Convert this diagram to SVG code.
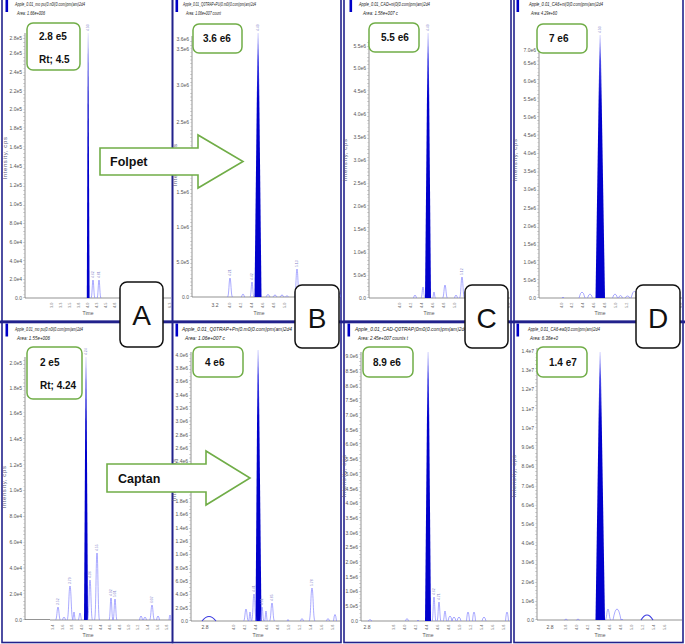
<svg xmlns="http://www.w3.org/2000/svg" width="685" height="644" viewBox="0 0 685 644">
<style>
.frame{fill:none;stroke:#22228c;stroke-width:1.6}
.ax{stroke:#666;stroke-width:0.7;fill:none}
.tk{stroke:#777;stroke-width:0.5;fill:none}
.mt{stroke:#888;stroke-width:1.4;fill:none;stroke-dasharray:0.4 3.3}
.yl{font-family:"Liberation Sans",sans-serif;font-size:5px;fill:#555;text-anchor:end}
.xl{font-family:"Liberation Sans",sans-serif;font-size:3.8px;fill:#777}
.xh{font-family:"Liberation Sans",sans-serif;font-size:5px;fill:#555;text-anchor:middle}
.pl{font-family:"Liberation Sans",sans-serif;font-size:3.4px;fill:#8888cc}
.hd{font-family:"Liberation Sans",sans-serif;font-style:italic;font-size:5.2px;fill:#222}
.it{font-family:"Liberation Sans",sans-serif;font-size:6px;fill:#5a5a80;text-anchor:middle;letter-spacing:0.6px}
.pk{fill:none;stroke:#7070ff;stroke-width:0.6}
.pkd{fill:none;stroke:#3a3ae0;stroke-width:1.1}
.main{fill:url(#pg)}
.sq{fill:#0000c8}
.vb{fill:#fff;stroke:#70ad47;stroke-width:1.5}
.vt{font-family:"Liberation Sans",sans-serif;font-weight:bold;font-size:10px;fill:#111}
.arr{fill:#fff;stroke:#70ad47;stroke-width:1.6}
.at{font-family:"Liberation Sans",sans-serif;font-weight:bold;font-size:12.5px;fill:#111}
.lbx{fill:#fff;stroke:#111;stroke-width:1.5}
.lt{font-family:"Liberation Sans",sans-serif;font-size:28px;fill:#111;text-anchor:middle}
</style>
<defs>
<linearGradient id="pg" x1="0" y1="0" x2="0" y2="1">
<stop offset="0" stop-color="#d8d8ff"/>
<stop offset="0.1" stop-color="#4848e8"/>
<stop offset="0.25" stop-color="#0000cc"/>
<stop offset="1" stop-color="#0000cc"/>
</linearGradient>
</defs>
<rect width="685" height="644" fill="#fff"/>

<!-- ===== Panel frames ===== -->
<g id="frames">
<rect class="frame" x="2" y="-2" width="170.5" height="323.5"/>
<rect class="frame" x="172.5" y="-2" width="168.5" height="323.5"/>
<rect class="frame" x="344" y="-2" width="167" height="323.5"/>
<rect class="frame" x="514" y="-2" width="169" height="323.5"/>
<rect class="frame" x="2" y="322" width="170.5" height="320.5"/>
<rect class="frame" x="172.5" y="322" width="168.5" height="320.5"/>
<rect class="frame" x="344" y="322" width="167" height="320.5"/>
<rect class="frame" x="514" y="322" width="169" height="320.5"/>
<rect x="0" y="320.5" width="685" height="2.8" fill="#22228c"/>
</g>

<!-- ===== Top A ===== -->
<g id="panel-top-A">
<rect class="sq" x="5.5" y="0" width="2.6" height="12"/>
<text class="hd" x="15" y="6" textLength="70" lengthAdjust="spacingAndGlyphs">Apple_0.01_mo pu(0.n0l(0.com)pm(am)2d4</text>
<text class="hd" x="17" y="15" textLength="28" lengthAdjust="spacingAndGlyphs">Area: 1.66e+006</text>
<text class="it" transform="translate(6.5 158) rotate(-90)">Intensity, cps</text>
<path class="ax" d="M25 33V298M25 298H171"/>
<path class="mt" d="M24 298V35"/>
<text class="yl"><tspan x="22" y="39.8">2.8e5</tspan><tspan x="22" y="54.8">2.6e5</tspan><tspan x="22" y="73.8">2.4e5</tspan><tspan x="22" y="92.8">2.2e5</tspan><tspan x="22" y="110.8">2.0e5</tspan><tspan x="22" y="129.8">1.8e5</tspan><tspan x="22" y="148.8">1.6e5</tspan><tspan x="22" y="167.8">1.4e5</tspan><tspan x="22" y="186.8">1.2e5</tspan><tspan x="22" y="205.8">1.0e5</tspan><tspan x="22" y="224.8">8.0e4</tspan><tspan x="22" y="243.8">6.0e4</tspan><tspan x="22" y="262.8">4.0e4</tspan><tspan x="22" y="280.8">2.0e4</tspan><tspan x="22" y="299.8">0.0</tspan></text>
<path class="main" d="M86.8 298L87.8 33L88.4 33L89.6 298Z"/>
<path class="pk" d="M91 298C92.2 298 92.2 280 93 280C93.8 280 93.8 298 95 298M97 298C98.2 298 98.2 280 99 280C99.8 280 99.8 298 101 298M124.5 298C125.4 298 125.4 295 126 295C126.6 295 126.6 298 127.5 298"/>
<text class="pl" transform="rotate(-90)"><tspan x="-31" y="89.2">4.50</tspan><tspan x="-278" y="94.2">4.62</tspan><tspan x="-278" y="100.2">4.81</tspan><tspan x="-293" y="127.2">5.54</tspan></text>
<text class="xl" transform="rotate(-90)"><tspan x="-308" y="53.3">3.0</tspan><tspan x="-308" y="62.3">3.3</tspan><tspan x="-308" y="71.3">3.5</tspan><tspan x="-308" y="80.3">3.8</tspan><tspan x="-308" y="89.3">4.0</tspan><tspan x="-308" y="98.3">4.3</tspan><tspan x="-308" y="107.3">4.5</tspan><tspan x="-308" y="116.3">4.8</tspan><tspan x="-308" y="125.3">5.0</tspan><tspan x="-308" y="162.3">6.0</tspan><tspan x="-308" y="171.3">6.3</tspan></text>
<text class="xh" x="88" y="315">Time</text>
</g>

<!-- ===== Top B ===== -->
<g id="panel-top-B">
<rect class="sq" x="175.5" y="0" width="2.6" height="12"/>
<text class="hd" x="183" y="6" textLength="73" lengthAdjust="spacingAndGlyphs">Apple_0.01_Q0TRAP+PU(0.m0l(0.com)pm(am)2d4</text>
<text class="hd" x="186" y="15" textLength="35" lengthAdjust="spacingAndGlyphs">Area: 1.06e+007 count</text>
<text class="it" transform="translate(176.5 165) rotate(-90)">Intensity, cps</text>
<path class="ax" d="M192 36V297M192 297H340"/>
<path class="mt" d="M191 297V38"/>
<text class="yl"><tspan x="189" y="40.8">3.6e6</tspan><tspan x="189" y="50.8">3.5e6</tspan><tspan x="189" y="86.8">3.0e6</tspan><tspan x="189" y="123.8">2.5e6</tspan><tspan x="189" y="158.8">2.0e6</tspan><tspan x="189" y="193.8">1.5e6</tspan><tspan x="189" y="228.8">1.0e6</tspan><tspan x="189" y="263.8">5.0e5</tspan><tspan x="189" y="298.8">0.0</tspan></text>
<path class="main" d="M254.5 297L257.6 33L258.6 33L261.5 297Z"/>
<path class="pk" d="M227.5 297C229 297 229 278 230 278C231 278 231 297 232.5 297M250 297C251.2 297 251.2 282 252 282C252.8 282 252.8 297 254 297M294.5 297C296 297 296 269 297 269C298 269 298 297 299.5 297M241 297C242 297 242 294 243 294C244 294 244 297 245 297M266 297Q268 292 270 297M273 297Q275 293 277 297M280 297Q282 293 284 297M285.5 297Q287 294 288.5 297M337.5 297Q339 289 340.5 297"/>
<text class="pl" transform="rotate(-90)"><tspan x="-31" y="259.2">4.49</tspan><tspan x="-276" y="231.2">4.21</tspan><tspan x="-280" y="253.2">4.42</tspan><tspan x="-267" y="298.2">5.13</tspan></text>
<text class="xh" x="215" y="307">3.2</text>
<text class="xl" transform="rotate(-90)"><tspan x="-308" y="231.3">4.0</tspan><tspan x="-308" y="242.3">4.2</tspan><tspan x="-308" y="253.3">4.4</tspan><tspan x="-308" y="264.3">4.6</tspan><tspan x="-308" y="275.3">4.8</tspan><tspan x="-308" y="286.3">5.0</tspan><tspan x="-308" y="339.3">6.0</tspan></text>
<text class="xh" x="259" y="315">Time</text>
</g>

<!-- ===== Top C ===== -->
<g id="panel-top-C">
<rect class="sq" x="349.5" y="0" width="2.6" height="12"/>
<text class="hd" x="359" y="6" textLength="71" lengthAdjust="spacingAndGlyphs">Apple_0.01_CAD+ni(0(0.com)pm(am)2d4</text>
<text class="hd" x="363" y="15" textLength="35" lengthAdjust="spacingAndGlyphs">Area: 1.58e+007 c</text>
<text class="it" transform="translate(346.5 160) rotate(-90)">Intensity, cps</text>
<path class="ax" d="M369 40V298M369 298H510"/>
<path class="mt" d="M368 298V42"/>
<text class="yl"><tspan x="366" y="47.8">5.5e6</tspan><tspan x="366" y="69.8">5.0e6</tspan><tspan x="366" y="92.8">4.5e6</tspan><tspan x="366" y="115.8">4.0e6</tspan><tspan x="366" y="138.8">3.5e6</tspan><tspan x="366" y="161.8">3.0e6</tspan><tspan x="366" y="184.8">2.5e6</tspan><tspan x="366" y="207.8">2.0e6</tspan><tspan x="366" y="230.8">1.5e6</tspan><tspan x="366" y="253.8">1.0e6</tspan><tspan x="366" y="276.8">5.0e5</tspan><tspan x="366" y="299.8">0.0</tspan></text>
<path class="main" d="M425 298L427.6 33L428.6 33L431 298Z"/>
<path class="pk" d="M413.5 298Q415 292 416.5 298M421 298C422.2 298 422.2 287 423 287C423.8 287 423.8 298 425 298M432.5 298C433.4 298 433.4 292 434 292C434.6 292 434.6 298 435.5 298M442.5 298C444 298 444 285 445 285C446 285 446 298 447.5 298M454.5 298Q456 292 457.5 298M459.5 298C461 298 461 277 462 277C463 277 463 298 464.5 298M468.5 298Q470 288 471.5 298"/>
<text class="pl" transform="rotate(-90)"><tspan x="-31" y="429.2">4.49</tspan><tspan x="-275" y="463.2">5.12</tspan></text>
<text class="xl" transform="rotate(-90)"><tspan x="-308" y="401.3">4.0</tspan><tspan x="-308" y="412.3">4.2</tspan><tspan x="-308" y="423.3">4.4</tspan><tspan x="-308" y="434.3">4.6</tspan><tspan x="-308" y="445.3">4.8</tspan><tspan x="-308" y="456.3">5.0</tspan><tspan x="-308" y="510.3">6.0</tspan></text>
<text class="xh" x="429" y="315">Time</text>
</g>

<!-- ===== Top D ===== -->
<g id="panel-top-D">
<rect class="sq" x="516.5" y="0" width="2.6" height="12"/>
<text class="hd" x="529" y="6" textLength="74" lengthAdjust="spacingAndGlyphs">Apple_0.01_CA6+ni(0(0.com)pm(am)2d4</text>
<text class="hd" x="531" y="15" textLength="26" lengthAdjust="spacingAndGlyphs">Area: 4.29e+60</text>
<text class="it" transform="translate(516.5 160) rotate(-90)">Intensity, cps</text>
<path class="ax" d="M539 45V298M539 298H682"/>
<path class="mt" d="M538 298V47"/>
<text class="yl"><tspan x="536" y="51.8">7.0e6</tspan><tspan x="536" y="64.8">6.5e6</tspan><tspan x="536" y="82.8">6.0e6</tspan><tspan x="536" y="100.8">5.5e6</tspan><tspan x="536" y="118.8">5.0e6</tspan><tspan x="536" y="136.8">4.5e6</tspan><tspan x="536" y="154.8">4.0e6</tspan><tspan x="536" y="172.8">3.5e6</tspan><tspan x="536" y="190.8">3.0e6</tspan><tspan x="536" y="209.8">2.5e6</tspan><tspan x="536" y="227.8">2.0e6</tspan><tspan x="536" y="245.8">1.5e6</tspan><tspan x="536" y="263.8">1.0e6</tspan><tspan x="536" y="281.8">5.0e5</tspan><tspan x="536" y="299.8">0.0</tspan></text>
<path class="main" d="M595.5 298L599.6 35L600.6 35L605 298Z"/>
<path class="pk" d="M562 298Q563 296 564 298M579 298Q582 286 585 298M587.5 298Q590 290 592.5 298M612.5 298Q615 290 617.5 298M618.5 298Q620.5 293 622.5 298M625 298Q627.5 294 630 298M631 298Q634.5 284 638 298M670 298Q672 294 674 298"/>
<text class="pl" transform="rotate(-90)"><tspan x="-33" y="601.2">4.50</tspan></text>
<text class="xl" transform="rotate(-90)"><tspan x="-308" y="563.3">4.0</tspan><tspan x="-308" y="573.3">4.2</tspan><tspan x="-308" y="584.3">4.4</tspan><tspan x="-308" y="595.3">4.6</tspan><tspan x="-308" y="606.3">4.8</tspan><tspan x="-308" y="617.3">5.0</tspan><tspan x="-308" y="628.3">5.2</tspan><tspan x="-308" y="682.3">6.0</tspan></text>
<text class="xh" x="600" y="315">Time</text>
</g>

<!-- ===== Bottom A ===== -->
<g id="panel-bottom-A">
<rect class="sq" x="5.5" y="323.5" width="2.6" height="13"/>
<text class="hd" x="15" y="331" textLength="68" lengthAdjust="spacingAndGlyphs">Apple_0.01_mo pu(0.n0l(0.com)pm(am)2d4</text>
<text class="hd" x="17" y="340" textLength="33" lengthAdjust="spacingAndGlyphs">Area: 1.55e+006</text>
<text class="it" transform="translate(5.5 487) rotate(-90)">Intensity, cps</text>
<path class="ax" d="M25 357V620M25 619.5H50M50 620H171"/>
<path class="mt" d="M24 620V359"/>
<text class="yl"><tspan x="22" y="364.8">2.0e5</tspan><tspan x="22" y="389.8">1.8e5</tspan><tspan x="22" y="414.8">1.6e5</tspan><tspan x="22" y="440.8">1.4e5</tspan><tspan x="22" y="466.8">1.2e5</tspan><tspan x="22" y="491.8">1.0e5</tspan><tspan x="22" y="517.8">8.0e4</tspan><tspan x="22" y="543.8">6.0e4</tspan><tspan x="22" y="569.8">4.0e4</tspan><tspan x="22" y="595.8">2.0e4</tspan><tspan x="22" y="621.8">0.0</tspan></text>
<path class="main" d="M84 620L85.6 357L86.4 357L88 620Z"/>
<path class="pk" d="M55.5 620C57 620 57 607 58 607C59 607 59 620 60.5 620M62.5 620Q64 614 65.5 620M67 620C68.8 620 68.8 586 70 586C71.2 586 71.2 620 73 620M72.5 620C73.4 620 73.4 612 74 612C74.6 612 74.6 620 75.5 620M78 620C79.2 620 79.2 613 80 613C80.8 613 80.8 620 82 620M87.5 620C89 620 89 580 90 580C91 580 91 620 92.5 620M94.5 620C96 620 96 553 97 553C98 553 98 620 99.5 620M109 620C110.2 620 110.2 598 111 598C111.8 598 111.8 620 113 620M113 620C114.2 620 114.2 599 115 599C115.8 599 115.8 620 117 620M139.5 620Q141 612 142.5 620M143.5 620Q145 614 146.5 620M149.5 620C151 620 151 605 152 605C153 605 153 620 154.5 620M156.5 620Q158 612 159.5 620M169 620Q170 610 171 620"/>
<text class="pl" transform="rotate(-90)"><tspan x="-355" y="87.2">4.24</tspan><tspan x="-605" y="59.2">3.52</tspan><tspan x="-584" y="71.2">3.79</tspan><tspan x="-578" y="91.2">4.36</tspan><tspan x="-551" y="98.2">4.55</tspan><tspan x="-596" y="112.2">4.92</tspan><tspan x="-597" y="116.2">5.01</tspan><tspan x="-603" y="153.2">6.07</tspan></text>
<text class="xl" transform="rotate(-90)"><tspan x="-630" y="54.3">3.4</tspan><tspan x="-630" y="64.3">3.6</tspan><tspan x="-630" y="73.3">3.8</tspan><tspan x="-630" y="83.3">4.0</tspan><tspan x="-630" y="92.3">4.2</tspan><tspan x="-630" y="102.3">4.4</tspan><tspan x="-630" y="111.3">4.6</tspan><tspan x="-630" y="121.3">4.8</tspan><tspan x="-630" y="130.3">5.0</tspan><tspan x="-630" y="139.3">5.2</tspan><tspan x="-630" y="149.3">5.4</tspan><tspan x="-630" y="159.3">5.6</tspan><tspan x="-630" y="168.3">5.8</tspan></text>
<text class="xh" x="88" y="637">Time</text>
</g>

<!-- ===== Bottom B ===== -->
<g id="panel-bottom-B">
<rect class="sq" x="175.5" y="323.5" width="2.6" height="13"/>
<text class="hd" x="182" y="331" textLength="110" lengthAdjust="spacingAndGlyphs">Apple_0.01_Q0TRAP+Pn(0.m0(0.com)pm(am)2d4</text>
<text class="hd" x="185" y="340" textLength="40" lengthAdjust="spacingAndGlyphs">Area: 1.06e+007 c</text>
<text class="it" transform="translate(175.5 480) rotate(-90)">Intensity, cps</text>
<path class="ax" d="M191 352V621M191 621H340"/>
<path class="mt" d="M190 621V354"/>
<text class="yl"><tspan x="188" y="356.8">4.0e6</tspan><tspan x="188" y="370.1">3.8e6</tspan><tspan x="188" y="383.4">3.6e6</tspan><tspan x="188" y="396.7">3.4e6</tspan><tspan x="188" y="410">3.2e6</tspan><tspan x="188" y="423.3">3.0e6</tspan><tspan x="188" y="436.6">2.8e6</tspan><tspan x="188" y="449.9">2.6e6</tspan><tspan x="188" y="463.2">2.4e6</tspan><tspan x="188" y="476.5">2.2e6</tspan><tspan x="188" y="489.8">2.0e6</tspan><tspan x="188" y="503.1">1.8e6</tspan><tspan x="188" y="516.4">1.6e6</tspan><tspan x="188" y="529.7">1.4e6</tspan><tspan x="188" y="543">1.2e6</tspan><tspan x="188" y="556.3">1.0e6</tspan><tspan x="188" y="569.6">8.0e5</tspan><tspan x="188" y="582.9">6.0e5</tspan><tspan x="188" y="596.2">4.0e5</tspan><tspan x="188" y="609.5">2.0e5</tspan><tspan x="188" y="622.8">0.0</tspan></text>
<path class="main" d="M255.5 621L257.6 350L258.6 350L261.5 621Z"/>
<path class="pkd" d="M202 621Q209 612 216 621"/>
<path class="pk" d="M243.5 621C245 621 245 609 246 609C247 609 247 621 248.5 621M248.5 621C249.4 621 249.4 612 250 612C250.6 612 250.6 621 251.5 621M251.5 621C253 621 253 594 254 594C255 594 255 621 256.5 621M260 621C261.2 621 261.2 607 262 607C262.8 607 262.8 621 264 621M264.5 621C265.4 621 265.4 611 266 611C266.6 611 266.6 621 267.5 621M269.5 621C271 621 271 603 272 603C273 603 273 621 274.5 621M309 621C310.8 621 310.8 588 312 588C313.2 588 313.2 621 315 621M287 621Q288 618 289 621M300.5 621Q302 616 303.5 621M326.5 621Q328 616 329.5 621M333.5 621Q335 608 336.5 621"/>
<text class="pl" transform="rotate(-90)"><tspan x="-592" y="255.2">4.41</tspan><tspan x="-605" y="263.2">4.61</tspan><tspan x="-601" y="273.2">4.85</tspan><tspan x="-586" y="313.2">5.78</tspan></text>
<text class="xh" x="205" y="629">2.8</text>
<text class="xl" transform="rotate(-90)"><tspan x="-630" y="235.3">4.0</tspan><tspan x="-630" y="246.3">4.2</tspan><tspan x="-630" y="257.3">4.4</tspan><tspan x="-630" y="268.3">4.6</tspan><tspan x="-630" y="279.3">4.8</tspan><tspan x="-630" y="290.3">5.0</tspan><tspan x="-630" y="301.3">5.2</tspan><tspan x="-630" y="312.3">5.4</tspan><tspan x="-630" y="323.3">5.6</tspan><tspan x="-630" y="334.3">5.8</tspan></text>
<text class="xh" x="258" y="637">Time</text>
</g>

<!-- ===== Bottom C ===== -->
<g id="panel-bottom-C">
<rect class="sq" x="347.5" y="323.5" width="2.6" height="13"/>
<text class="hd" x="355" y="331" textLength="112" lengthAdjust="spacingAndGlyphs">Apple_0.01_CAD-Q0TRAP(0m0(0.com)pm(am)2d4</text>
<text class="hd" x="358" y="340" textLength="50" lengthAdjust="spacingAndGlyphs">Area: 2.45e+007 counts t</text>
<text class="it" transform="translate(345.5 476) rotate(-90)">Intensity, cps</text>
<path class="ax" d="M361 352V621M361 621H510"/>
<path class="mt" d="M360 621V354"/>
<text class="yl"><tspan x="358" y="358.2">9.0e6</tspan><tspan x="358" y="372.9">8.5e6</tspan><tspan x="358" y="387.6">8.0e6</tspan><tspan x="358" y="402.3">7.5e6</tspan><tspan x="358" y="417">7.0e6</tspan><tspan x="358" y="431.7">6.5e6</tspan><tspan x="358" y="446.4">6.0e6</tspan><tspan x="358" y="461.1">5.5e6</tspan><tspan x="358" y="475.8">5.0e6</tspan><tspan x="358" y="490.5">4.5e6</tspan><tspan x="358" y="505.2">4.0e6</tspan><tspan x="358" y="519.9">3.5e6</tspan><tspan x="358" y="534.6">3.0e6</tspan><tspan x="358" y="549.3">2.5e6</tspan><tspan x="358" y="564">2.0e6</tspan><tspan x="358" y="578.7">1.5e6</tspan><tspan x="358" y="593.4">1.0e6</tspan><tspan x="358" y="608.1">5.0e5</tspan><tspan x="358" y="622.8">0.0</tspan></text>
<path class="main" d="M425 621L427.6 352L428.6 352L431 621Z"/>
<path class="pk" d="M432 621C433.2 621 433.2 597 434 597C434.8 597 434.8 621 436 621M437 621C438.2 621 438.2 602 439 602C439.8 602 439.8 621 441 621M443 621C444.2 621 444.2 611 445 611C445.8 611 445.8 621 447 621M448 621Q450 611 452 621M452 621Q454 613 456 621M457 621Q459 613 461 621M466.5 621Q468 603 469.5 621M472.5 621Q474 603 475.5 621M482 621Q484 613 486 621M505.5 621Q507 603 508.5 621M368 621Q370 618 372 621M405.5 621Q407 616 408.5 621M417 621Q418 619 419 621"/>
<text class="pl" transform="rotate(-90)"><tspan x="-595" y="435.2">4.62</tspan><tspan x="-600" y="440.2">4.71</tspan></text>
<text class="xh" x="367" y="629">2.8</text>
<text class="xl" transform="rotate(-90)"><tspan x="-630" y="395.3">3.8</tspan><tspan x="-630" y="406.3">4.0</tspan><tspan x="-630" y="417.3">4.2</tspan><tspan x="-630" y="428.3">4.4</tspan><tspan x="-630" y="439.3">4.6</tspan><tspan x="-630" y="450.3">4.8</tspan><tspan x="-630" y="461.3">5.0</tspan><tspan x="-630" y="472.3">5.2</tspan><tspan x="-630" y="483.3">5.4</tspan><tspan x="-630" y="494.3">5.6</tspan><tspan x="-630" y="505.3">5.8</tspan></text>
<text class="xh" x="428" y="637">Time</text>
</g>

<!-- ===== Bottom D ===== -->
<g id="panel-bottom-D">
<rect class="sq" x="516.5" y="323.5" width="2.6" height="13"/>
<text class="hd" x="528" y="331" textLength="72" lengthAdjust="spacingAndGlyphs">Apple_0.01_CA6-ea0(0.com)pm(am)2d4</text>
<text class="hd" x="530" y="340" textLength="28" lengthAdjust="spacingAndGlyphs">Area: 6.36e+0</text>
<text class="it" transform="translate(515.5 476) rotate(-90)">Intensity, cps</text>
<path class="ax" d="M537 348V620M537 620H682"/>
<path class="mt" d="M536 620V350"/>
<text class="yl"><tspan x="534" y="352.8">1.4e7</tspan><tspan x="534" y="371.8">1.3e7</tspan><tspan x="534" y="390.8">1.2e7</tspan><tspan x="534" y="410.8">1.1e7</tspan><tspan x="534" y="429.8">1.0e7</tspan><tspan x="534" y="448.8">9.0e6</tspan><tspan x="534" y="467.8">8.0e6</tspan><tspan x="534" y="487.8">7.0e6</tspan><tspan x="534" y="506.8">6.0e6</tspan><tspan x="534" y="525.8">5.0e6</tspan><tspan x="534" y="544.8">4.0e6</tspan><tspan x="534" y="563.8">3.0e6</tspan><tspan x="534" y="583.8">2.0e6</tspan><tspan x="534" y="602.8">1.0e6</tspan><tspan x="534" y="621.8">0.0</tspan></text>
<path class="main" d="M595.5 620L599.6 352L600.6 352L605 620Z"/>
<path class="pk" d="M564.5 620Q566 618 567.5 620M576.5 620Q578 618 579.5 620M605 620C606.8 620 606.8 609 608 609C609.2 609 609.2 620 611 620M613 620Q617 598 621 620M621 620Q622 618 623 620"/>
<path class="pkd" d="M641 620Q647 610 653 620"/>
<text class="xh" x="550" y="629">2.8</text>
<text class="xl" transform="rotate(-90)"><tspan x="-630" y="567.3">3.8</tspan><tspan x="-630" y="578.3">4.0</tspan><tspan x="-630" y="589.3">4.2</tspan><tspan x="-630" y="600.3">4.4</tspan><tspan x="-630" y="611.3">4.6</tspan><tspan x="-630" y="622.3">4.8</tspan><tspan x="-630" y="633.3">5.0</tspan><tspan x="-630" y="644.3">5.2</tspan><tspan x="-630" y="655.3">5.4</tspan><tspan x="-630" y="666.3">5.6</tspan></text>
<text class="xh" x="600" y="637">Time</text>
</g>

<!-- ===== Value boxes ===== -->
<g id="value-A-top"><rect class="vb" x="27" y="23" width="53" height="47" rx="6"/><text class="vt" x="39" y="40">2.8 e5</text><text class="vt" x="39" y="63">Rt; 4.5</text></g>
<g id="value-B-top"><rect class="vb" x="193" y="24" width="49" height="29" rx="6"/><text class="vt" x="203" y="42">3.6 e6</text></g>
<g id="value-C-top"><rect class="vb" x="369" y="23" width="50" height="29" rx="6"/><text class="vt" x="381" y="41">5.5 e6</text></g>
<g id="value-D-top"><rect class="vb" x="537" y="24" width="50" height="29" rx="6"/><text class="vt" x="549" y="42">7 e6</text></g>
<g id="value-A-bottom"><rect class="vb" x="27" y="347" width="55" height="52" rx="6"/><text class="vt" x="40" y="366">2 e5</text><text class="vt" x="40" y="389">Rt; 4.24</text></g>
<g id="value-B-bottom"><rect class="vb" x="193" y="347" width="50" height="30" rx="6"/><text class="vt" x="205" y="366">4 e6</text></g>
<g id="value-C-bottom"><rect class="vb" x="363" y="347" width="50" height="30" rx="6"/><text class="vt" x="373" y="366">8.9 e6</text></g>
<g id="value-D-bottom"><rect class="vb" x="537" y="347" width="50" height="30" rx="6"/><text class="vt" x="549" y="366">1.4 e7</text></g>

<!-- ===== Arrows ===== -->
<g id="connectors">
<g id="arrow-folpet"><polygon class="arr" points="100,148 198,148 198,135 243,161.5 198,188 198,175 100,175"/><text class="at" x="110" y="166">Folpet</text></g>
<g id="arrow-captan"><polygon class="arr" points="107,464 206,464 206,451 250,478 206,505 206,492 107,492"/><text class="at" x="118" y="483">Captan</text></g>
</g>

<!-- ===== Letter boxes ===== -->
<g id="label-A"><rect class="lbx" x="120" y="282" width="43" height="65" rx="7"/><text class="lt" x="141.5" y="325">A</text></g>
<g id="label-B"><rect class="lbx" x="295" y="285" width="44" height="63" rx="7"/><text class="lt" x="317" y="328">B</text></g>
<g id="label-C"><rect class="lbx" x="465" y="285" width="43" height="63" rx="7"/><text class="lt" x="486.5" y="328">C</text></g>
<g id="label-D"><rect class="lbx" x="636" y="285" width="44" height="63" rx="7"/><text class="lt" x="658" y="328">D</text></g>
</svg>
